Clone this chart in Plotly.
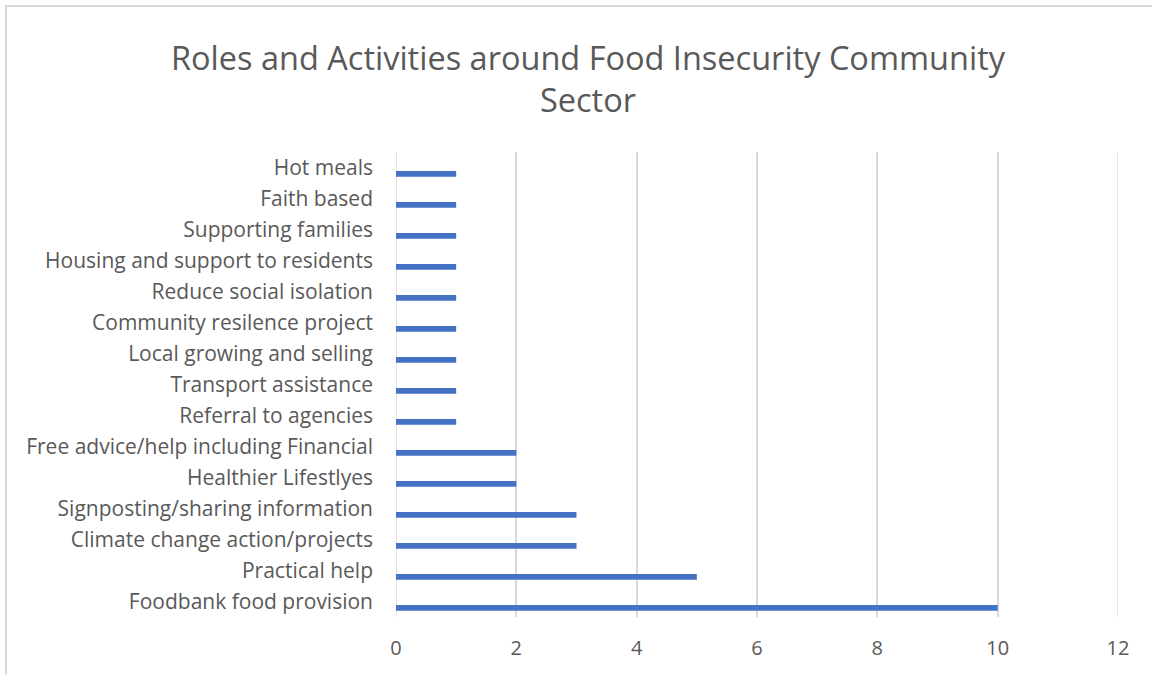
import plotly.graph_objects as go

categories = [
    "Foodbank food provision",
    "Practical help",
    "Climate change action/projects",
    "Signposting/sharing information",
    "Healthier Lifestlyes",
    "Free advice/help including Financial",
    "Referral to agencies",
    "Transport assistance",
    "Local growing and selling",
    "Community resilence project",
    "Reduce social isolation",
    "Housing and support to residents",
    "Supporting families",
    "Faith based",
    "Hot meals",
]
values = [10, 5, 3, 3, 2, 2, 1, 1, 1, 1, 1, 1, 1, 1, 1]
x_ticks = [0, 2, 4, 6, 8, 10, 12]

W, H = 1152, 675
L, R, T, B = 396, 34, 152, 58
FONT = "Open Sans"
GREY = "#595959"
GRID = "#D9D9D9"

fig = go.Figure(
    go.Bar(
        x=values,
        y=categories,
        orientation="h",
        marker=dict(color="#4472C4", line=dict(width=0)),
        width=0.19,
        offset=-0.30,
    )
)

shapes = [
    dict(
        type="rect",
        xref="paper",
        yref="paper",
        x0=(6 - L) / (W - L - R),
        x1=(1200 - L) / (W - L - R),
        y0=(H - B - 720) / (H - T - B),
        y1=(H - B - 6) / (H - T - B),
        line=dict(color=GRID, width=2),
        fillcolor="rgba(0,0,0,0)",
        layer="below",
    )
]
for xv in (x_ticks[0], x_ticks[-1]):
    shapes.append(
        dict(
            type="line",
            xref="x",
            yref="paper",
            x0=xv, x1=xv, y0=0, y1=1,
            line=dict(color=GRID, width=1.5),
            layer="below",
        )
    )

fig.update_layout(
    width=W,
    height=H,
    margin=dict(l=L, r=R, t=T, b=B),
    paper_bgcolor="white",
    plot_bgcolor="white",
    showlegend=False,
    font=dict(family=FONT, color=GREY),
    title=dict(
        text="Roles and Activities around Food Insecurity Community<br>Sector",
        x=588 / W,
        xanchor="center",
        y=1 - 70 / H,
        yanchor="top",
        font=dict(family=FONT, size=32.5, color=GREY),
    ),
    xaxis=dict(
        range=[0, 12],
        tickvals=x_ticks,
        showgrid=True,
        gridcolor=GRID,
        gridwidth=1.5,
        zeroline=False,
        showline=False,
        ticks="",
        ticklabelstandoff=17,
        tickfont=dict(family=FONT, size=20, color=GREY),
        fixedrange=True,
    ),
    yaxis=dict(
        type="category",
        categoryorder="array",
        categoryarray=categories,
        showgrid=False,
        zeroline=False,
        showline=False,
        ticks="",
        ticklabelstandoff=22,
        tickfont=dict(family=FONT, size=21, color=GREY),
    ),
    shapes=shapes,
)

fig.write_html("out.html")
